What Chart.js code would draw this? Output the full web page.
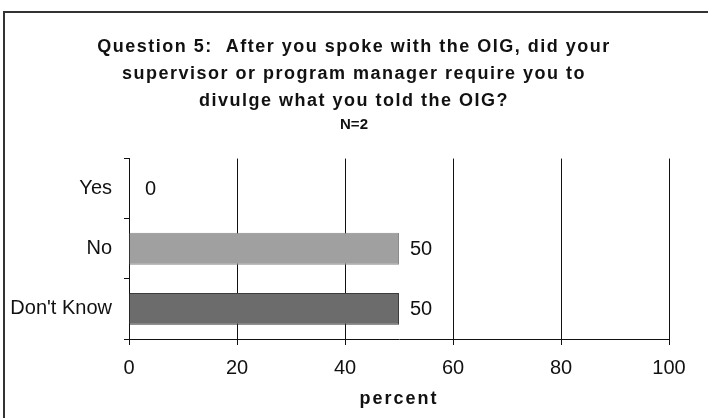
<!DOCTYPE html>
<html>
<head>
<meta charset="utf-8">
<script src="https://cdn.jsdelivr.net/npm/chart.js@4.4.1/dist/chart.umd.min.js"></script>
<style>
    html, body { margin: 0; padding: 0; background: #fff; }
    #wrap { position: relative; width: 708px; height: 418px; }
    #frame { position: absolute; left: 3px; top: 11px; right: 0; bottom: 0; border-top: 2px solid #333; border-left: 2px solid #333; pointer-events: none; }
    canvas { position: absolute; left: 0; top: 0; }
</style>
</head>
<body>
<div id="wrap">
    <canvas id="chart" width="708" height="418"></canvas>
    <div id="frame"></div>
</div>
<script>
// chart data
const categories = ['Yes', 'No', "Don't Know"];
const percents = [0, 50, 50];
const barColors = ['#a0a0a0', '#a0a0a0', '#6c6c6c'];
const barBorders = ['#8a8a8a', '#8a8a8a', '#3c3c3c'];
const titleLines = [
    'Question 5:  After you spoke with the OIG, did your',
    'supervisor or program manager require you to',
    'divulge what you told the OIG?'
];
const subtitleText = 'N=2';
const xTicks = [0, 20, 40, 60, 80, 100];

const FONT = "'Liberation Sans', Arial, sans-serif";

// draw the value next to each bar end
const valueLabels = {
    id: 'valueLabels',
    afterDatasetsDraw(chart) {
        const ctx = chart.ctx;
        const meta = chart.getDatasetMeta(0);
        ctx.save();
        ctx.font = '20px ' + FONT;
        ctx.fillStyle = '#111';
        ctx.textAlign = 'left';
        ctx.textBaseline = 'middle';
        meta.data.forEach(function(bar, i) {
            const gap = percents[i] === 0 ? 16 : 11;
            ctx.fillText(String(percents[i]), bar.x + gap, bar.y + 1);
        });
        ctx.restore();
    }
};

// wraps a draw function so its text is letter-spaced like the scanned original
function spaced(fn, spacing) {
    return function() {
        const c = this.ctx;
        const old = c.letterSpacing;
        c.letterSpacing = spacing;
        fn.apply(this, arguments);
        c.letterSpacing = old || '0px';
    };
}

const ctx = document.getElementById('chart').getContext('2d');
const chart = new Chart(ctx, {
    type: 'bar',
    data: {
        labels: categories,
        datasets: [{
            data: percents,
            backgroundColor: barColors,
            borderColor: barBorders,
            borderWidth: 1,
            barPercentage: 0.53,
            categoryPercentage: 1.0
        }]
    },
    options: {
        indexAxis: 'y',
        responsive: false,
        animation: false,
        layout: { padding: { left: 0, right: 0, top: 0, bottom: 8 } },
        plugins: {
            legend: { display: false },
            tooltip: { enabled: false },
            title: {
                display: true,
                text: titleLines,
                color: '#111',
                font: { family: FONT, size: 18, weight: 'bold', lineHeight: 1.52 },
                padding: { top: 33, bottom: 0 }
            },
            subtitle: {
                display: true,
                text: subtitleText,
                color: '#111',
                font: { family: FONT, size: 15, weight: 'bold', lineHeight: 1.3 },
                padding: { top: 0, bottom: 24 }
            }
        },
        scales: {
            x: {
                min: 0,
                max: 100,
                afterBuildTicks(scale) {
                    scale.ticks = xTicks.map(function(v) { return { value: v }; });
                },
                afterFit(scale) { scale.height = 71; },
                grid: { color: '#111', lineWidth: 1, tickLength: 6, drawOnChartArea: true },
                border: { color: '#111', width: 1 },
                ticks: { color: '#111', font: { family: FONT, size: 20 }, padding: 11 },
                title: {
                    display: true,
                    text: 'percent',
                    color: '#111',
                    font: { family: FONT, size: 18, weight: 'bold' },
                    padding: { top: 1, bottom: 0 }
                }
            },
            y: {
                afterFit(scale) { scale.width = 129; },
                grid: { offset: true, drawOnChartArea: false, color: '#111', tickLength: 5 },
                border: { color: '#111', width: 1 },
                ticks: { color: '#111', font: { family: FONT, size: 20 }, padding: 12 }
            },
            // empty right-hand strip so the plot ends before the canvas edge
            // while the title stays centred on the whole canvas
            yRight: {
                position: 'right',
                afterFit(scale) { scale.width = 39; },
                grid: { display: false },
                border: { display: false },
                ticks: { display: false }
            }
        }
    },
    plugins: [valueLabels]
});

// letter spacing for the bold title and the axis title, then redraw
chart.titleBlock.draw = spaced(chart.titleBlock.draw, '1.5px');
chart.scales.x.drawTitle = spaced(chart.scales.x.drawTitle, '2px');
chart.draw();
</script>
</body>
</html>
